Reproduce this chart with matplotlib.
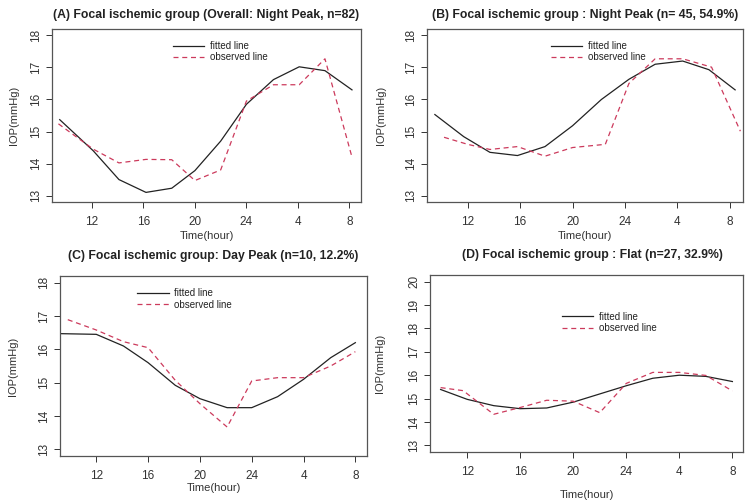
import matplotlib
matplotlib.use("Agg")
import matplotlib.pyplot as plt

plt.rcParams['font.family'] = ['Liberation Sans', 'DejaVu Sans']

# tick positions (hours, continuous clock past midnight) and labels
tick_pos = [12, 16, 20, 24, 28, 32]
tick_labels = ['12', '16', '20', '24', '4', '8']

titles = [
    "(A) Focal ischemic group (Overall: Night Peak, n=82)",
    "(B) Focal ischemic group : Night Peak (n= 45, 54.9%)",
    "(C) Focal ischemic group: Day Peak (n=10, 12.2%)",
    "(D) Focal ischemic group : Flat (n=27, 32.9%)",
]

# Panel A
a_fit_t = [9.5, 12.1, 14.1, 16.2, 18.2, 20.0, 22.0, 24.0, 26.1, 28.1, 30.1, 32.2]
a_fit = [15.37, 14.4, 13.5, 13.1, 13.23, 13.78, 14.7, 15.85, 16.62, 17.02, 16.9, 16.3]
a_obs_t = [9.4, 12.1, 14.1, 16.2, 18.2, 20.0, 22.0, 24.0, 26.1, 28.1, 30.1, 32.2]
a_obs = [15.24, 14.45, 14.02, 14.13, 14.12, 13.47, 13.8, 15.95, 16.46, 16.46, 17.27, 14.2]

# Panel B
b_fit_t = [9.5, 11.7, 13.7, 15.8, 17.9, 20.0, 22.2, 24.3, 26.3, 28.4, 30.4, 32.4]
b_fit = [15.53, 14.84, 14.35, 14.25, 14.53, 15.18, 16.0, 16.63, 17.1, 17.2, 16.93, 16.3]
b_obs_t = [10.2, 12.0, 13.7, 15.8, 17.9, 20.0, 22.5, 24.3, 26.3, 28.4, 30.6, 32.8]
b_obs = [14.82, 14.6, 14.44, 14.53, 14.23, 14.5, 14.6, 16.5, 17.27, 17.27, 17.01, 15.01]

# Panel C
c_fit_t = [9.3, 12.0, 14.1, 16.0, 18.1, 20.0, 22.1, 24.0, 26.0, 28.0, 30.1, 32.0]
c_fit = [16.47, 16.45, 16.1, 15.6, 14.92, 14.52, 14.25, 14.25, 14.58, 15.1, 15.75, 16.2]
c_obs_t = [9.8, 12.0, 14.1, 16.0, 18.1, 20.0, 22.1, 24.0, 26.0, 28.0, 30.1, 32.0]
c_obs = [16.89, 16.58, 16.23, 16.05, 15.07, 14.37, 13.67, 15.05, 15.15, 15.15, 15.5, 15.93]

# Panel D
d_fit_t = [10.0, 12.0, 14.0, 16.0, 18.0, 20.0, 22.0, 24.0, 26.0, 28.0, 30.0, 32.0]
d_fit = [15.39, 14.97, 14.7, 14.57, 14.6, 14.85, 15.2, 15.55, 15.87, 16.0, 15.95, 15.73]
d_obs_t = [10.0, 11.7, 14.0, 16.0, 18.0, 20.0, 22.0, 24.0, 26.0, 28.0, 30.0, 32.0]
d_obs = [15.47, 15.34, 14.33, 14.62, 14.93, 14.89, 14.4, 15.65, 16.12, 16.12, 15.99, 15.33]

panels = [
    (a_fit_t, a_fit, a_obs_t, a_obs, (13, 18), [13, 14, 15, 16, 17, 18]),
    (b_fit_t, b_fit, b_obs_t, b_obs, (13, 18), [13, 14, 15, 16, 17, 18]),
    (c_fit_t, c_fit, c_obs_t, c_obs, (13, 18), [13, 14, 15, 16, 17, 18]),
    (d_fit_t, d_fit, d_obs_t, d_obs, (13, 20), [13, 14, 15, 16, 17, 18, 19, 20]),
]

# axes rectangles in pixels (left, top, right, bottom) on 750x500
rects = [
    (52, 29, 361, 202),
    (427, 29, 743, 202),
    (60, 276, 367, 456),
    (430, 275, 743, 452),
]
legend_anchor = [(0.37, 0.97), (0.37, 0.97), (0.23, 0.97), (0.40, 0.83)]
xlims = [(8.9, 32.9), (8.9, 33.0), (9.2, 32.9), (9.2, 32.8)]
title_x = [0.5, 0.5, 0.5, 0.52]
title_pad = [8, 8, 12, 12]
xlabel_pad = [2.5, 2.5, 0.5, 9]
ylabel_pad = [8, 14, 14.5, 17]

W, H = 750, 500
fig = plt.figure(figsize=(7.5, 5), dpi=100)
red = '#cc3a5c'
axcol = '#555555'

for i, (ft, fv, ot, ov, yl, yt) in enumerate(panels):
    l, t, r, b = rects[i]
    ax = fig.add_axes([l / W, 1 - b / H, (r - l) / W, (b - t) / H])
    ax.plot(ft, fv, color='#222222', lw=0.9, label='fitted line')
    ax.plot(ot, ov, color=red, lw=0.9, ls=(0, (4, 3)), label='observed line')
    ax.set_xlim(*xlims[i])
    pad = 0.04 * (yl[1] - yl[0])
    ax.set_ylim(yl[0] - pad, yl[1] + pad)
    ax.set_xticks(tick_pos)
    ax.set_xticklabels(tick_labels)
    ax.set_yticks(yt)
    ax.set_yticklabels([str(v) for v in yt], rotation=90, va='center')
    ax.tick_params(axis='both', direction='out', length=4, width=0.7,
                   colors='#333333', labelsize=8.5, pad=3)
    ax.tick_params(axis='x', pad=6)
    for s in ax.spines.values():
        s.set_color(axcol)
        s.set_linewidth(0.9)
    ax.set_xlabel('Time(hour)', fontsize=8, color='#333333', labelpad=xlabel_pad[i])
    ax.set_ylabel('IOP(mmHg)', fontsize=8, color='#333333', labelpad=ylabel_pad[i])
    ax.set_title(titles[i], fontsize=8.8, fontweight='bold', color='#222222',
                 pad=title_pad[i], x=title_x[i])
    leg = ax.legend(loc='upper left', bbox_to_anchor=legend_anchor[i], frameon=False,
                    fontsize=7, handlelength=3.2, handletextpad=0.6,
                    labelspacing=0.15, borderpad=0.2)
    for txt in leg.get_texts():
        txt.set_color('#222222')

fig.savefig('out.png', dpi=100, facecolor='white')
